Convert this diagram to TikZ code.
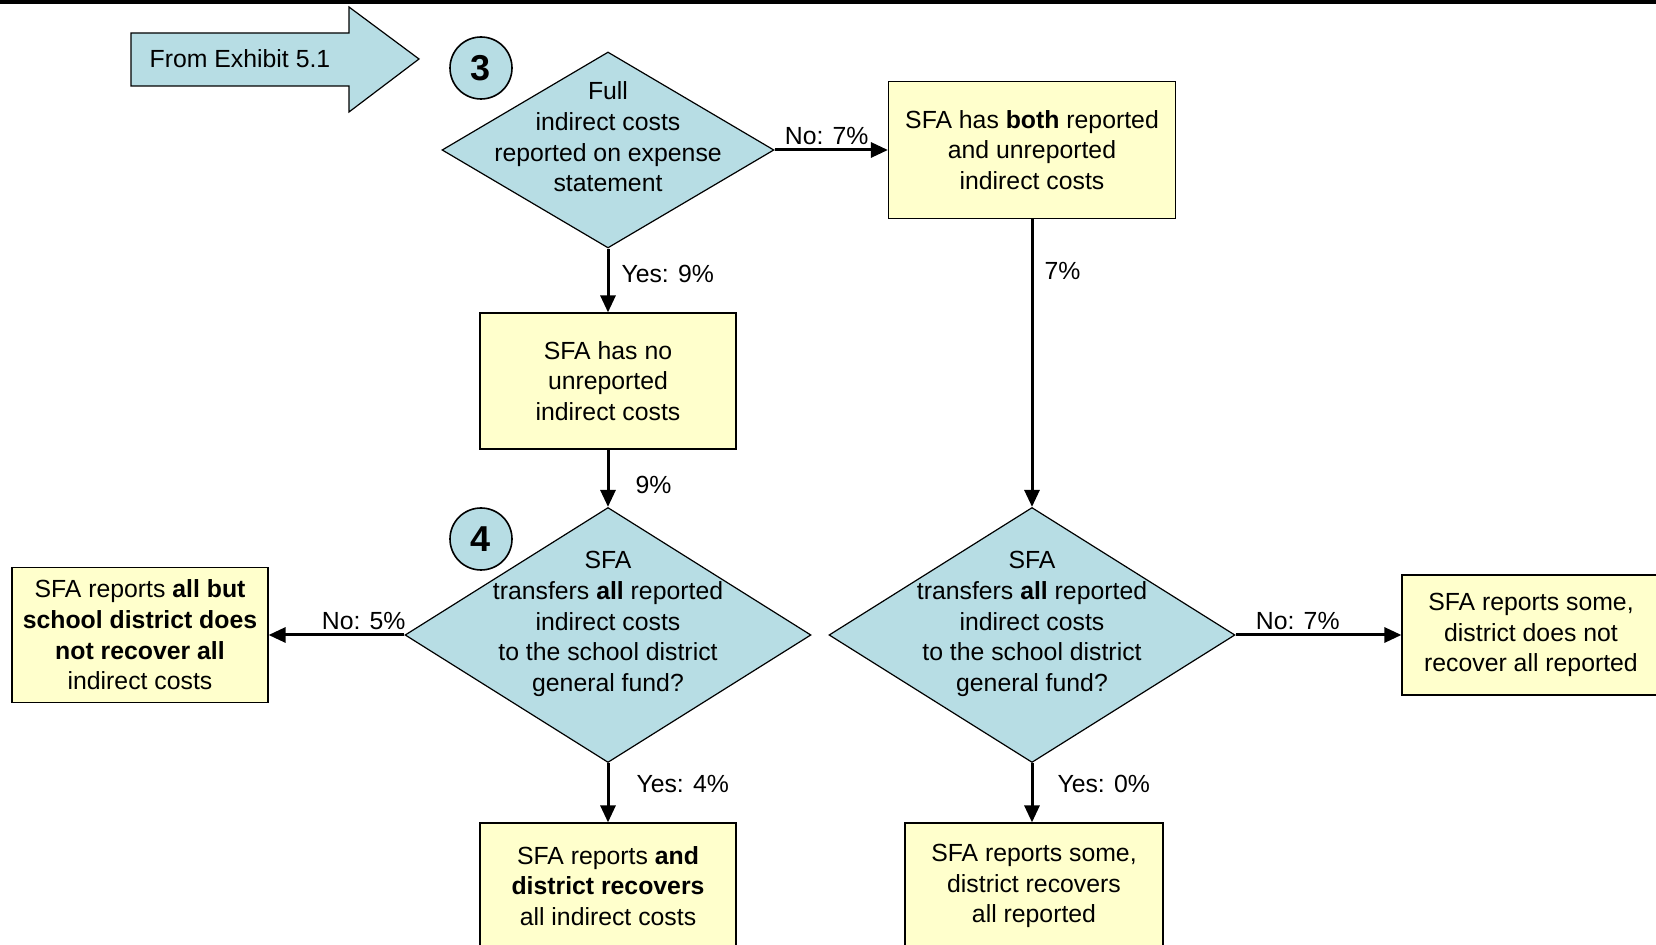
\documentclass[tikz,border=0pt]{standalone}
\usepackage{fontspec}
\setmainfont{Liberation Sans}
\usetikzlibrary{shapes.geometric,arrows.meta}
\definecolor{diablue}{RGB}{183,221,228}
\definecolor{boxyellow}{RGB}{255,255,204}
\tikzset{%
  decision/.style = {shape=diamond, draw, fill=diablue,%
                     inner sep=0pt, line width=0.6pt},%
  outcome/.style  = {shape=rectangle, draw, fill=boxyellow, align=center,%
                     minimum width=128pt, minimum height=68pt, line width=0.6pt},%
  stepno/.style   = {circle, draw, fill=diablue, minimum size=31pt, inner sep=0pt,%
                     line width=0.8pt, font=\fontsize{18}{20}\selectfont\bfseries},%
  flow/.style     = {line width=1.5pt, -{Triangle[length=8.5pt,width=7.5pt]}},%
  txt/.style      = {align=center}%
}
\begin{document}
\begin{tikzpicture}[x=0.5pt,y=-0.5pt,
	every node/.style = {font=\fontsize{12.4}{15.3}\selectfont, inner sep=2pt}]
	\useasboundingbox (0,0) rectangle (1656,945);
	\clip (0,0) rectangle (1656,945);
	\fill (0,0) rectangle (1656,4);
	% entry arrow
	\draw [fill=diablue, line width=0.6pt] (131,33) -- (349,33) -- (349,7) -- (419,59)
		-- (349,112) -- (349,86) -- (131,86) -- cycle;
	\node (from) at (240,59) {From Exhibit 5.1};
	\node [stepno] (s3) at (481,68) {3};
	\node [stepno] (s4) at (481,539) {4};
	% decisions
	\node [decision, minimum width=166pt, minimum height=98pt] (d1) at (608,150) {};
	\node [txt] (d1t) at (608,137) {Full\\indirect costs\\reported on expense\\statement};
	\node [decision, minimum width=203pt, minimum height=127.5pt] (d2) at (608,635) {};
	\node [txt] (d2t) at (608,624) {SFA\\transfers \textbf{all} reported\\indirect costs\\to the school district\\general fund?};
	\node [decision, minimum width=203pt, minimum height=127.5pt] (d3) at (1032,635) {};
	\node [txt] (d3t) at (1032,624) {SFA\\transfers \textbf{all} reported\\indirect costs\\to the school district\\general fund?};
	% outcomes
	\node [outcome, minimum width=143.5pt, minimum height=68.5pt] (both) at (1032,150)
		{SFA has \textbf{both} reported\\and unreported\\indirect costs};
	\node [outcome] (none) at (608,381) {SFA has no\\unreported\\indirect costs};
	\node [outcome, minimum height=67.5pt] (allbut) at (140,635)
		{SFA reports \textbf{all but}\\\textbf{school district does}\\\textbf{not recover all}\\indirect costs};
	\node [outcome, minimum width=129pt, minimum height=60pt] (somenot) at (1531,635)
		{SFA reports some,\\district does not\\recover all reported};
	\node [outcome, minimum height=63pt] (allrec) at (608,886)
		{SFA reports \textbf{and}\\\textbf{district recovers}\\all indirect costs};
	\node [outcome, minimum width=129pt, minimum height=63pt] (somerec) at (1034,886)
		{SFA reports some,\\district recovers\\all reported};
	% connectors
	\draw [flow] (d1.east) -- node [above, pos=0.46] (n1) {No: 7\%} (both.west);
	\draw [flow] (d1.south) -- node [right=4pt, pos=0.4] (y1) {Yes: 9\%} (none.north);
	\draw [flow] (none.south) -- node [right=11pt, pos=0.61] (p1) {9\%} (d2.north);
	\draw [flow] (both.south) -- node [right=3.5pt, pos=0.18] (p2) {7\%} (d3.north);
	\draw [flow] (d2.west) -- node [above, pos=0.3] (n2) {No: 5\%} (allbut.east);
	\draw [flow] (d3.east) -- node [above, pos=0.375] (n3) {No: 7\%} (somenot.west);
	\draw [flow] (d2.south) -- node [right=11.5pt, pos=0.36] (y2) {Yes: 4\%} (allrec.north);
	\draw [flow] (d3.south) -- node [right=10pt, pos=0.36] (y3) {Yes: 0\%} (d3.south |- somerec.north);
\end{tikzpicture}
\end{document}
